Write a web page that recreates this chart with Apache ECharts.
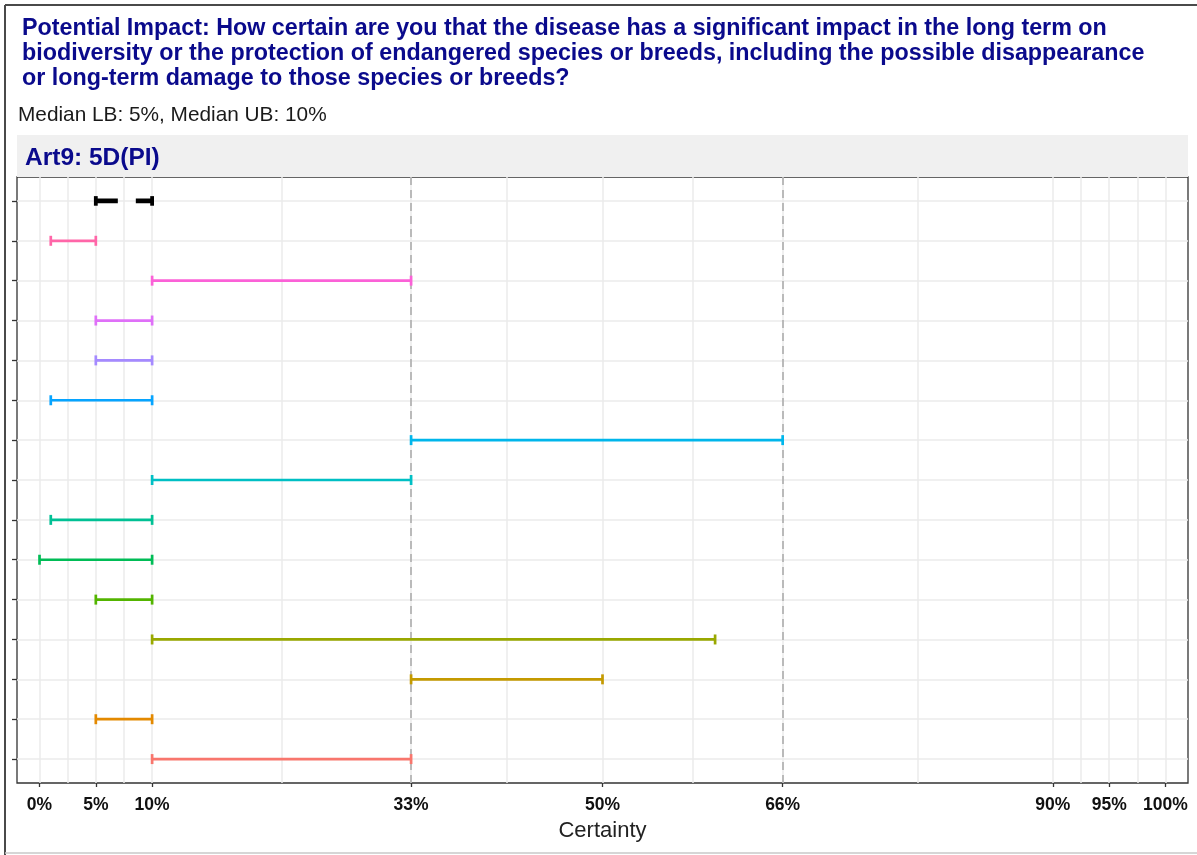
<!DOCTYPE html>
<html>
<head>
<meta charset="utf-8">
<script src="https://cdn.jsdelivr.net/npm/echarts@6/dist/echarts.min.js"></script>
<style>
  html, body { margin: 0; padding: 0; background: #fff; }
  #chart { width: 1197px; height: 855px; }
</style>
</head>
<body>
<div id="chart"></div>
<script>
// ---- text ----
const titleLines = [
  'Potential Impact: How certain are you that the disease has a significant impact in the long term on',
  'biodiversity or the protection of endangered species or breeds, including the possible disappearance',
  'or long-term damage to those species or breeds?'
];
const subtitleText = 'Median LB: 5%, Median UB: 10%';
const panelLabel = 'Art9: 5D(PI)';
const axisTitle = 'Certainty';

// ---- intervals, listed top to bottom (first row = median interval) ----
const rowLower = [5, 1, 10, 5, 5, 1, 33, 10, 1, 0, 5, 10, 33, 5, 10];
const rowUpper = [10, 5, 33, 10, 10, 10, 66, 33, 10, 10, 10, 60, 50, 10, 33];
const rowColors = [
  '#000000', '#FF66A8', '#FB61D7', '#DF70F8', '#A58AFF', '#06A4FF', '#00B6EB',
  '#00BFC4', '#00C094', '#00BC56', '#53B400', '#99A800', '#C49A00', '#E38900', '#F8766D'
];

// ---- axis breaks ----
const tickValues = [0, 5, 10, 33, 50, 66, 90, 95, 100];
const minorValues = [2.5, 7.5, 21.5, 41.5, 58, 78, 92.5, 97.5];
const refLines = [33, 66];

const FONT = '"Liberation Sans", Arial, sans-serif';
const NAVY = '#0A0A8C';
const nRows = rowLower.length;
const rowPos = rowLower.map((_, i) => nRows - i);

const intervalData = rowLower.map((lo, i) => [lo, rowUpper[i], rowPos[i], i]);

const chart = echarts.init(document.getElementById('chart'), null, { renderer: 'canvas' });

// horizontal error bar: line between the bounds plus a cap at each end
function renderInterval(params, api) {
  const lo = api.value(0), hi = api.value(1), row = api.value(2), idx = api.value(3);
  const a = api.coord([lo, row]);
  const b = api.coord([hi, row]);
  const isMedian = idx === 0;
  const color = rowColors[idx];
  const w = isMedian ? 4.8 : 2.7;
  const capH = isMedian ? 4.8 : 5;
  const capW = isMedian ? 3.8 : 2.7;
  return {
    type: 'group',
    children: [
      { type: 'line', shape: { x1: a[0], y1: a[1], x2: b[0], y2: b[1] },
        style: { stroke: color, lineWidth: w, lineDash: isMedian ? [22, 18] : null } },
      { type: 'line', shape: { x1: a[0], y1: a[1] - capH, x2: a[0], y2: a[1] + capH },
        style: { stroke: color, lineWidth: capW } },
      { type: 'line', shape: { x1: b[0], y1: b[1] - capH, x2: b[0], y2: b[1] + capH },
        style: { stroke: color, lineWidth: capW } }
    ]
  };
}

const gridLineStyle = { color: '#EBEBEB', width: 1.5, type: 'solid' };

const option = {
  animation: false,
  backgroundColor: '#ffffff',
  title: [
    {
      text: titleLines.join('\n'),
      left: 17, top: 11,
      textStyle: { fontFamily: FONT, fontSize: 23.3, fontWeight: 'bold', color: NAVY, lineHeight: 25 }
    },
    {
      text: subtitleText,
      left: 13, top: 99,
      textStyle: { fontFamily: FONT, fontSize: 20.8, fontWeight: 'normal', color: '#1a1a1a', lineHeight: 22 }
    }
  ],
  graphic: [
    // outer frame
    { type: 'line', shape: { x1: 5, y1: 5, x2: 1197, y2: 5 }, style: { stroke: '#4a4a4a', lineWidth: 2 } },
    { type: 'line', shape: { x1: 5, y1: 5, x2: 5, y2: 855 }, style: { stroke: '#4a4a4a', lineWidth: 2 } },
    { type: 'line', shape: { x1: 5, y1: 853, x2: 1197, y2: 853 }, style: { stroke: '#c8c8c8', lineWidth: 1.5 } },
    // facet strip
    { type: 'rect', shape: { x: 17, y: 135, width: 1171, height: 42 }, style: { fill: '#F0F0F0' } },
    { type: 'text', x: 25, y: 158,
      style: { text: panelLabel, fontFamily: FONT, fontSize: 24.5, fontWeight: 'bold', fill: NAVY,
               verticalAlign: 'middle' } }
  ],
  grid: {
    left: 17, top: 177, width: 1171, height: 606,
    show: true, backgroundColor: '#ffffff', borderColor: '#333333', borderWidth: 1.3
  },
  xAxis: {
    type: 'value', min: -2, max: 102,
    axisLine: { show: false, onZero: false },
    splitLine: { show: false },
    axisTick: { show: true, customValues: tickValues, length: 4, lineStyle: { color: '#333', width: 1.3 } },
    axisLabel: {
      customValues: tickValues, formatter: '{value}%', margin: 13,
      fontFamily: FONT, fontSize: 17.5, fontWeight: 'bold', color: '#111'
    },
    name: axisTitle, nameLocation: 'middle', nameGap: 37,
    nameTextStyle: { fontFamily: FONT, fontSize: 22, color: '#222' }
  },
  yAxis: {
    type: 'value', min: 0.4, max: 15.6,
    axisLine: { show: false, onZero: false },
    splitLine: { show: false },
    axisTick: { show: true, customValues: rowPos, length: 5, lineStyle: { color: '#333', width: 1.3 } },
    axisLabel: { show: false }
  },
  series: [
    {
      // background grid lines
      type: 'line', data: [], z: 1, silent: true,
      markLine: {
        z: 1, silent: true, symbol: 'none', label: { show: false },
        animation: false,
        lineStyle: gridLineStyle,
        data: [
          ...tickValues.map(v => ({ xAxis: v })),
          ...minorValues.map(v => ({ xAxis: v })),
          ...rowPos.map(v => ({ yAxis: v }))
        ]
      }
    },
    {
      // reference lines at 33% and 66%
      type: 'line', data: [], z: 2, silent: true,
      markLine: {
        z: 2, silent: true, symbol: 'none', label: { show: false },
        animation: false,
        lineStyle: { color: '#A8A8A8', width: 1.5, type: [8, 5] },
        data: refLines.map(v => ({ xAxis: v }))
      }
    },
    {
      type: 'custom', z: 3, silent: true,
      renderItem: renderInterval,
      encode: { x: [0, 1], y: 2 },
      data: intervalData
    }
  ]
};

chart.setOption(option);
</script>
</body>
</html>
